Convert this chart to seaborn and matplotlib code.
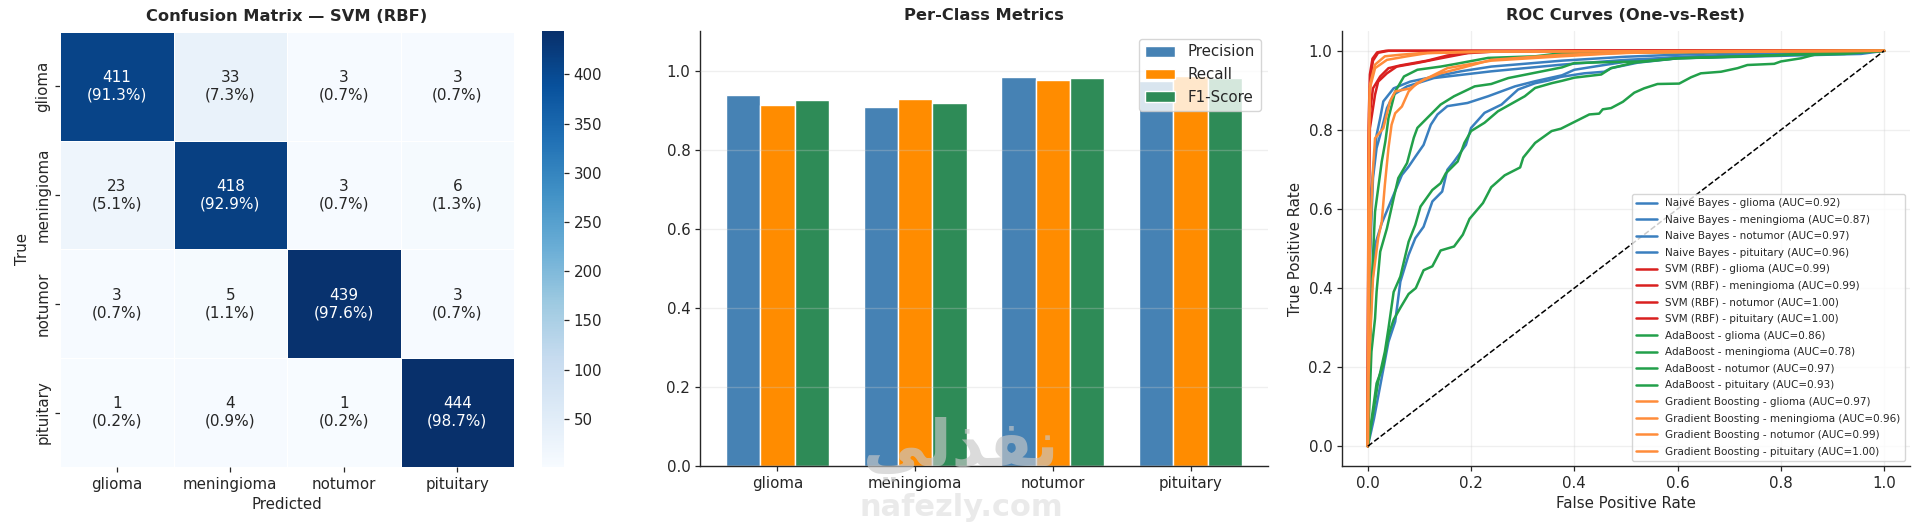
import pandas as pd
import seaborn as sns
import matplotlib
matplotlib.use('Agg')
import matplotlib.pyplot as plt

# confusion matrix
class_names = ['glioma', 'meningioma', 'notumor', 'pituitary']
cm_glioma = [411, 33, 3, 3]
cm_meningioma = [23, 418, 3, 6]
cm_notumor = [3, 5, 439, 3]
cm_pituitary = [1, 4, 1, 444]
cm_pct_glioma = ['91.3', '7.3', '0.7', '0.7']
cm_pct_meningioma = ['5.1', '92.9', '0.7', '1.3']
cm_pct_notumor = ['0.7', '1.1', '97.6', '0.7']
cm_pct_pituitary = ['0.2', '0.9', '0.2', '98.7']

# per class metrics
precision = [0.938, 0.909, 0.984, 0.974]
recall = [0.913, 0.929, 0.976, 0.987]
f1_score = [0.925, 0.919, 0.980, 0.980]

# roc curves
nb_glioma_fpr = [0, 0.002, 0.006, 0.014, 0.027, 0.043, 0.066, 0.079, 0.092, 0.108, 0.122, 0.135, 0.154, 0.193, 0.233, 0.285, 0.324, 0.376, 0.4, 0.458, 0.503, 0.6, 0.8, 1]
nb_glioma_tpr = [0, 0.17, 0.36, 0.509, 0.564, 0.614, 0.686, 0.707, 0.732, 0.762, 0.813, 0.839, 0.86, 0.868, 0.885, 0.91, 0.923, 0.938, 0.952, 0.964, 0.973, 0.984, 0.99, 1]
nb_meningioma_fpr = [0, 0.012, 0.025, 0.04, 0.053, 0.063, 0.079, 0.092, 0.108, 0.125, 0.144, 0.154, 0.167, 0.19, 0.2, 0.226, 0.259, 0.291, 0.324, 0.35, 0.374, 0.419, 0.458, 0.471, 0.523, 0.6, 0.955, 1]
nb_meningioma_tpr = [0, 0.07, 0.16, 0.264, 0.315, 0.416, 0.484, 0.526, 0.555, 0.619, 0.644, 0.699, 0.72, 0.762, 0.805, 0.843, 0.864, 0.902, 0.918, 0.925, 0.934, 0.943, 0.947, 0.956, 0.97, 0.981, 0.992, 1]
nb_notumor_fpr = [0, 0.001, 0.007, 0.014, 0.017, 0.024, 0.03, 0.05, 0.082, 0.115, 0.18, 0.239, 0.376, 0.5, 0.7, 1]
nb_notumor_tpr = [0, 0.34, 0.652, 0.745, 0.787, 0.83, 0.872, 0.905, 0.922, 0.931, 0.948, 0.96, 0.975, 0.985, 0.995, 1]
nb_pituitary_fpr = [0, 0.004, 0.01, 0.017, 0.024, 0.037, 0.05, 0.076, 0.128, 0.18, 0.239, 0.376, 0.5, 0.7, 1]
nb_pituitary_tpr = [0, 0.467, 0.678, 0.754, 0.787, 0.855, 0.889, 0.91, 0.931, 0.939, 0.948, 0.965, 0.977, 0.99, 1]

svm_glioma_fpr = [0, 0.001, 0.004, 0.014, 0.02, 0.037, 0.056, 0.095, 0.141, 0.193, 0.245, 0.4, 1]
svm_glioma_tpr = [0, 0.5, 0.804, 0.889, 0.922, 0.943, 0.96, 0.969, 0.981, 0.994, 0.998, 1, 1]
svm_meningioma_fpr = [0, 0.001, 0.003, 0.01, 0.024, 0.04, 0.063, 0.115, 0.154, 0.207, 0.4, 1]
svm_meningioma_tpr = [0, 0.55, 0.83, 0.905, 0.935, 0.956, 0.963, 0.975, 0.988, 0.997, 1, 1]
svm_notumor_fpr = [0, 0.001, 0.002, 0.005, 0.01, 0.02, 0.04, 1]
svm_notumor_tpr = [0, 0.6, 0.8, 0.93, 0.975, 0.995, 1, 1]
svm_pituitary_fpr = [0, 0.001, 0.002, 0.004, 0.009, 0.018, 0.035, 1]
svm_pituitary_tpr = [0, 0.65, 0.84, 0.94, 0.98, 0.996, 1, 1]

ada_glioma_fpr = [0, 0.02, 0.033, 0.04, 0.05, 0.063, 0.079, 0.092, 0.102, 0.125, 0.141, 0.151, 0.174, 0.187, 0.2, 0.226, 0.252, 0.278, 0.304, 0.324, 0.356, 0.376, 0.4, 0.452, 0.471, 0.516, 0.6, 0.723, 0.858, 1]
ada_glioma_tpr = [0, 0.163, 0.239, 0.298, 0.39, 0.429, 0.517, 0.56, 0.606, 0.648, 0.665, 0.69, 0.72, 0.767, 0.797, 0.818, 0.847, 0.866, 0.885, 0.906, 0.918, 0.924, 0.932, 0.94, 0.956, 0.97, 0.981, 0.986, 0.992, 1]
ada_meningioma_fpr = [0, 0.017, 0.03, 0.04, 0.05, 0.063, 0.079, 0.093, 0.108, 0.125, 0.141, 0.167, 0.184, 0.197, 0.223, 0.239, 0.265, 0.295, 0.301, 0.324, 0.356, 0.374, 0.4, 0.429, 0.448, 0.455, 0.471, 0.494, 0.516, 0.535, 0.561, 0.603, 0.626, 0.645, 0.684, 0.716, 0.735, 0.787, 0.8, 0.839, 0.865, 0.923, 1]
ada_meningioma_tpr = [0, 0.159, 0.205, 0.28, 0.32, 0.35, 0.385, 0.4, 0.445, 0.455, 0.495, 0.505, 0.535, 0.575, 0.615, 0.655, 0.685, 0.705, 0.73, 0.767, 0.797, 0.803, 0.82, 0.839, 0.841, 0.852, 0.855, 0.871, 0.894, 0.905, 0.916, 0.917, 0.933, 0.943, 0.947, 0.956, 0.964, 0.967, 0.973, 0.981, 0.99, 0.992, 1]
ada_notumor_fpr = [0, 0.004, 0.008, 0.014, 0.027, 0.034, 0.04, 0.053, 0.07, 0.096, 0.141, 0.167, 0.233, 0.324, 0.376, 1]
ada_notumor_tpr = [0, 0.239, 0.424, 0.593, 0.72, 0.771, 0.83, 0.897, 0.935, 0.952, 0.96, 0.966, 0.982, 0.986, 0.994, 1]
ada_pituitary_fpr = [0, 0.007, 0.014, 0.017, 0.024, 0.037, 0.05, 0.059, 0.076, 0.089, 0.096, 0.115, 0.141, 0.167, 0.207, 0.239, 0.272, 0.376, 0.4, 0.458, 0.529, 0.6, 0.761, 1]
ada_pituitary_tpr = [0, 0.239, 0.323, 0.391, 0.492, 0.551, 0.627, 0.678, 0.716, 0.78, 0.805, 0.83, 0.864, 0.885, 0.91, 0.916, 0.931, 0.958, 0.969, 0.971, 0.973, 0.981, 0.987, 1]

gb_glioma_fpr = [0, 0.001, 0.005, 0.01, 0.014, 0.03, 0.043, 0.053, 0.082, 0.108, 0.141, 0.18, 0.239, 0.376, 0.6, 1]
gb_glioma_tpr = [0, 0.3, 0.55, 0.7, 0.779, 0.804, 0.872, 0.897, 0.905, 0.927, 0.943, 0.956, 0.977, 0.99, 0.998, 1]
gb_meningioma_fpr = [0, 0.001, 0.01, 0.02, 0.027, 0.033, 0.04, 0.046, 0.053, 0.066, 0.079, 0.095, 0.122, 0.154, 0.193, 0.239, 0.376, 0.5, 1]
gb_meningioma_tpr = [0, 0.171, 0.424, 0.526, 0.568, 0.661, 0.754, 0.813, 0.842, 0.859, 0.897, 0.918, 0.935, 0.956, 0.965, 0.975, 0.986, 0.995, 1]
gb_notumor_fpr = [0, 0.001, 0.002, 0.004, 0.014, 0.037, 0.076, 0.115, 0.25, 1]
gb_notumor_tpr = [0, 0.35, 0.7, 0.905, 0.956, 0.977, 0.986, 0.994, 0.998, 1]
gb_pituitary_fpr = [0, 0.001, 0.002, 0.004, 0.014, 0.033, 0.063, 0.102, 0.2, 1]
gb_pituitary_tpr = [0, 0.5, 0.8, 0.914, 0.965, 0.986, 0.99, 0.994, 0.998, 1]

auc_nb = [0.92, 0.87, 0.97, 0.96]
auc_svm = [0.99, 0.99, 1.00, 1.00]
auc_ada = [0.86, 0.78, 0.97, 0.93]
auc_gb = [0.97, 0.96, 0.99, 1.00]

sns.set_theme(style='ticks', rc={'font.size': 10.8, 'axes.labelsize': 10.8,
                                 'xtick.labelsize': 10.8, 'ytick.labelsize': 10.8,
                                 'xtick.major.size': 3.5, 'ytick.major.size': 3.5,
                                 'xtick.major.width': 0.9, 'ytick.major.width': 0.9,
                                 'axes.linewidth': 1.0})

W, H = 1920, 525
fig = plt.figure(figsize=(W / 100, H / 100), dpi=100)

def px_axes(left, top, right, bottom):
    return fig.add_axes([left / W, 1 - bottom / H, (right - left) / W, (bottom - top) / H])

ax_cm = px_axes(60, 32, 514, 467)
ax_cb = px_axes(542, 31, 564, 467)
ax_bar = px_axes(700, 31, 1268, 466)
ax_roc = px_axes(1342, 31, 1910, 466)

# heatmap
cm = pd.DataFrame([cm_glioma, cm_meningioma, cm_notumor, cm_pituitary],
                  index=class_names, columns=class_names)
pcts = [cm_pct_glioma, cm_pct_meningioma, cm_pct_notumor, cm_pct_pituitary]
annot = [[f"{cm.iloc[i, j]}\n({pcts[i][j]}%)" for j in range(4)] for i in range(4)]
sns.heatmap(cm, annot=annot, fmt='', cmap='Blues', linewidths=0.5, linecolor='white',
            ax=ax_cm, cbar_ax=ax_cb, annot_kws={'fontsize': 11})
ax_cm.set_title('Confusion Matrix — SVM (RBF)', fontsize=11.7, fontweight='bold', pad=8)
ax_cm.set_xlabel('Predicted')
ax_cm.set_ylabel('True')
ax_cb.tick_params(labelsize=10.8)

# bars
metric_df = pd.DataFrame({
    'cls': class_names * 3,
    'metric': ['Precision'] * 4 + ['Recall'] * 4 + ['F1-Score'] * 4,
    'value': precision + recall + f1_score,
})
sns.barplot(data=metric_df, x='cls', y='value', hue='metric', ax=ax_bar,
            palette=['steelblue', 'darkorange', 'seagreen'], saturation=1,
            width=0.75, edgecolor='white', linewidth=1)
ax_bar.set_ylim(0, 1.1)
ax_bar.set_xlim(-0.5625, 3.5625)
ax_bar.set_xlabel('')
ax_bar.set_ylabel('')
ax_bar.set_yticks([0, 0.2, 0.4, 0.6, 0.8, 1.0])
ax_bar.set_title('Per-Class Metrics', fontsize=11.7, fontweight='bold', pad=8)
ax_bar.grid(axis='y', alpha=0.3)
ax_bar.set_axisbelow(False)
ax_bar.legend(loc='upper right', fontsize=10.8, title=None)
sns.despine(ax=ax_bar)

# roc
curves = [
    ('Naive Bayes', '#3a7fbf', auc_nb, [(nb_glioma_fpr, nb_glioma_tpr), (nb_meningioma_fpr, nb_meningioma_tpr),
                                        (nb_notumor_fpr, nb_notumor_tpr), (nb_pituitary_fpr, nb_pituitary_tpr)]),
    ('SVM (RBF)', '#d9201f', auc_svm, [(svm_glioma_fpr, svm_glioma_tpr), (svm_meningioma_fpr, svm_meningioma_tpr),
                                       (svm_notumor_fpr, svm_notumor_tpr), (svm_pituitary_fpr, svm_pituitary_tpr)]),
    ('AdaBoost', '#22a04a', auc_ada, [(ada_glioma_fpr, ada_glioma_tpr), (ada_meningioma_fpr, ada_meningioma_tpr),
                                      (ada_notumor_fpr, ada_notumor_tpr), (ada_pituitary_fpr, ada_pituitary_tpr)]),
    ('Gradient Boosting', '#ff8c3a', auc_gb, [(gb_glioma_fpr, gb_glioma_tpr), (gb_meningioma_fpr, gb_meningioma_tpr),
                                              (gb_notumor_fpr, gb_notumor_tpr), (gb_pituitary_fpr, gb_pituitary_tpr)]),
]
for model, color, aucs, pairs in curves:
    for cname, auc, (fpr, tpr) in zip(class_names, aucs, pairs):
        sns.lineplot(x=fpr, y=tpr, estimator=None, sort=False, color=color, linewidth=1.8,
                     label=f'{model} - {cname} (AUC={auc:.2f})', ax=ax_roc)
sns.lineplot(x=[0, 1], y=[0, 1], estimator=None, sort=False, color='black', linestyle='--',
             linewidth=1.1, ax=ax_roc)
ax_roc.set_xlim(-0.05, 1.05)
ax_roc.set_ylim(-0.05, 1.05)
ax_roc.set_xlabel('False Positive Rate')
ax_roc.set_ylabel('True Positive Rate')
ax_roc.set_title('ROC Curves (One-vs-Rest)', fontsize=11.7, fontweight='bold', pad=8)
ax_roc.grid(alpha=0.3)
ax_roc.legend(loc='lower right', fontsize=7.5, labelspacing=0.63)
sns.despine(ax=ax_roc)

# watermark
fig.text(961 / W, 1 - 449 / H, 'ﻲﻟﺬﻔﻧ', fontsize=46, fontweight='bold', color='#c8c8c8',
         alpha=0.65, ha='center', va='center', zorder=20)
fig.text(961 / W, 1 - 508 / H, 'nafezly.com', fontsize=22, fontweight='bold', color='#e2e2e2',
         alpha=0.7, ha='center', va='center', zorder=20)

fig.savefig('out.png', dpi=100)
plt.close(fig)
